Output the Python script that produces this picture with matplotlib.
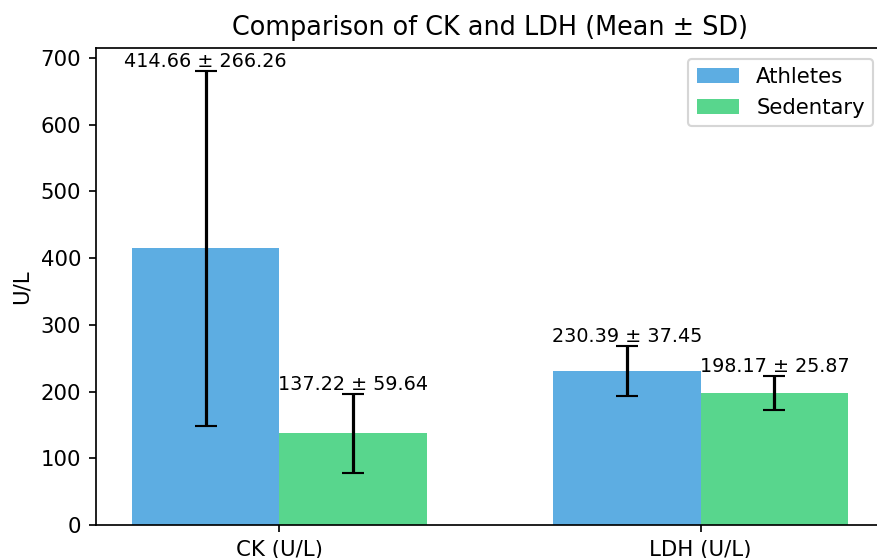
import numpy as np
import matplotlib
matplotlib.use("Agg")
import matplotlib.pyplot as plt

# Mean ± SD of CK and LDH
markers = ['CK (U/L)', 'LDH (U/L)']
athletes_mean = [414.66, 230.39]
athletes_sd = [266.26, 37.45]
sedentary_mean = [137.22, 198.17]
sedentary_sd = [59.64, 25.87]

x = np.arange(len(markers))
width = 0.35

DPI = 153
fig = plt.figure(figsize=(877 / DPI, 558 / DPI), dpi=DPI)
ax = fig.add_axes([96 / 877, 1 - 525 / 558, (884 - 96) / 877, (525 - 48) / 558])

ax.bar(x - width / 2, athletes_mean, width, yerr=athletes_sd, capsize=5,
       color='#5DADE2', ecolor='black', label='Athletes')
ax.bar(x + width / 2, sedentary_mean, width, yerr=sedentary_sd, capsize=5,
       color='#58D68D', ecolor='black', label='Sedentary')

for i in range(len(markers)):
    ax.text(x[i] - width / 2, athletes_mean[i] + athletes_sd[i],
            f'{athletes_mean[i]:.2f} ± {athletes_sd[i]:.2f}',
            ha='center', va='bottom', fontsize=9)
    ax.text(x[i] + width / 2, sedentary_mean[i] + sedentary_sd[i],
            f'{sedentary_mean[i]:.2f} ± {sedentary_sd[i]:.2f}',
            ha='center', va='bottom', fontsize=9)

ax.set_xticks(x)
ax.set_xticklabels(markers)
ax.set_ylabel('U/L')
ax.set_title('Comparison of CK and LDH (Mean ± SD)')
ax.legend(loc='upper right')

fig.savefig('out.png', dpi=DPI)
